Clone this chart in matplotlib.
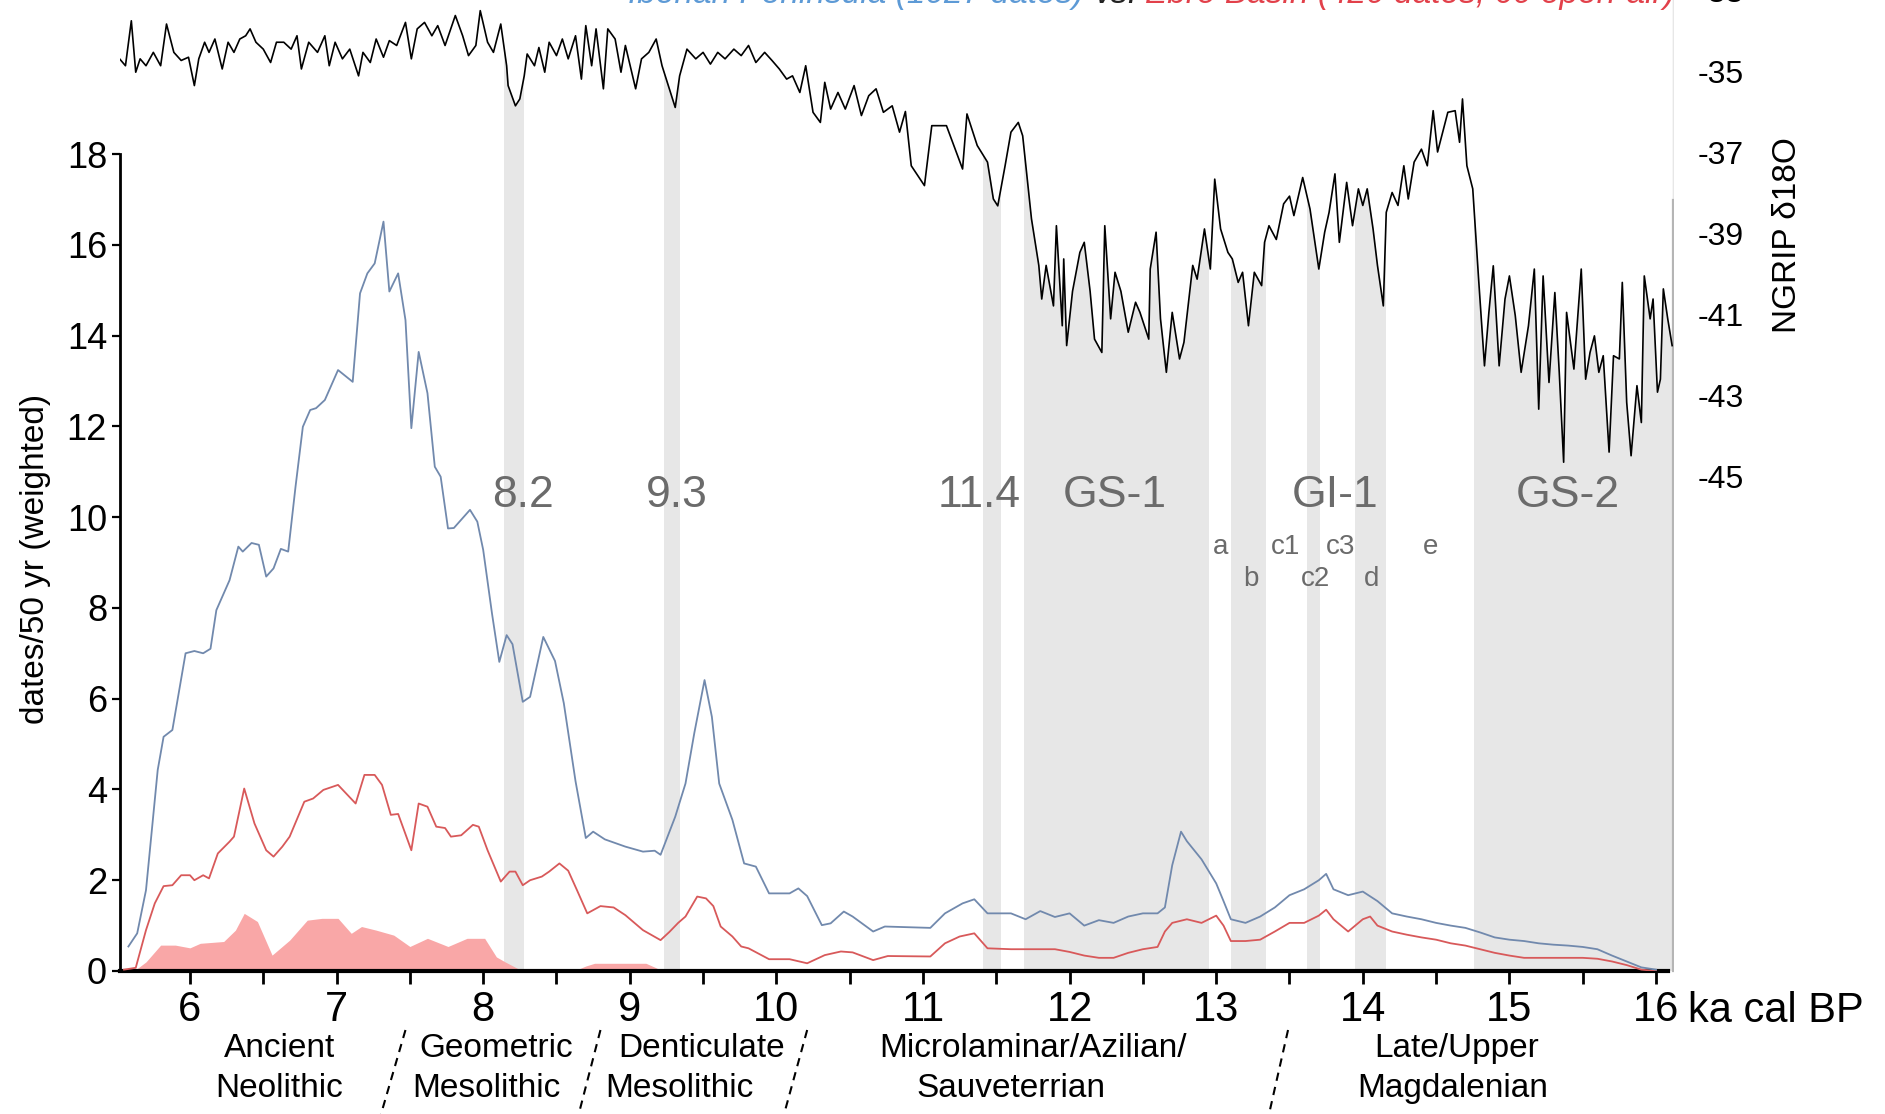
import numpy as np
import matplotlib
matplotlib.use("Agg")
import matplotlib.pyplot as plt

SANS = ['Liberation Sans', 'DejaVu Sans']

# ---------------- data ----------------
# Iberian Peninsula, summed dates per 50 yr (weighted)
ip_age = [5.58, 5.64, 5.70, 5.78, 5.82, 5.88, 5.97, 6.03, 6.09, 6.14, 6.18, 6.27, 6.33, 6.36,
          6.42, 6.47, 6.52, 6.57, 6.62, 6.67, 6.72, 6.77, 6.82, 6.86, 6.92, 7.01, 7.11, 7.16,
          7.21, 7.26, 7.32, 7.36, 7.42, 7.47, 7.51, 7.56, 7.62, 7.67, 7.71, 7.76, 7.80, 7.91,
          7.96, 8.00, 8.06, 8.11, 8.16, 8.20, 8.27, 8.32, 8.41, 8.49, 8.55, 8.63, 8.70, 8.75,
          8.83, 8.97, 9.09, 9.17, 9.21, 9.31, 9.38, 9.44, 9.51, 9.56, 9.61, 9.70, 9.78, 9.86,
          9.95, 10.09, 10.15, 10.21, 10.31, 10.37, 10.46, 10.52, 10.66, 10.74, 11.05, 11.15,
          11.27, 11.35, 11.44, 11.53, 11.60, 11.70, 11.80, 11.90, 12.00, 12.10, 12.20, 12.30,
          12.40, 12.50, 12.60, 12.65, 12.70, 12.76, 12.80, 12.90, 13.00, 13.05, 13.10, 13.20,
          13.30, 13.40, 13.50, 13.60, 13.70, 13.75, 13.80, 13.90, 14.00, 14.10, 14.20, 14.30,
          14.40, 14.50, 14.60, 14.70, 14.80, 14.90, 15.00, 15.10, 15.20, 15.30, 15.40, 15.50,
          15.60, 15.70, 15.80, 15.90, 16.00]
ip_val = [0.54, 0.83, 1.78, 4.43, 5.16, 5.31, 7.00, 7.05, 7.00, 7.10, 7.95, 8.61, 9.35, 9.24,
          9.43, 9.39, 8.69, 8.87, 9.30, 9.24, 10.67, 11.99, 12.36, 12.40, 12.58, 13.24, 12.98, 14.93,
          15.37, 15.59, 16.51, 14.97, 15.37, 14.34, 11.96, 13.64, 12.73, 11.11, 10.89, 9.75, 9.76, 10.16,
          9.90, 9.28, 7.88, 6.81, 7.40, 7.20, 5.93, 6.04, 7.36, 6.83, 5.90, 4.18, 2.93, 3.07,
          2.90, 2.74, 2.63, 2.65, 2.56, 3.40, 4.13, 5.24, 6.41, 5.60, 4.13, 3.33, 2.37, 2.30,
          1.71, 1.71, 1.82, 1.65, 1.01, 1.05, 1.31, 1.20, 0.87, 0.98, 0.95, 1.27,
          1.49, 1.58, 1.27, 1.27, 1.27, 1.14, 1.32, 1.19, 1.27, 1.00, 1.12, 1.06,
          1.20, 1.27, 1.27, 1.40, 2.33, 3.07, 2.86, 2.46, 1.93, 1.54, 1.14, 1.06,
          1.20, 1.40, 1.67, 1.80, 2.00, 2.14, 1.80, 1.67, 1.75, 1.54, 1.27, 1.20,
          1.14, 1.06, 1.00, 0.95, 0.85, 0.74, 0.69, 0.66, 0.61, 0.58, 0.56, 0.53,
          0.48, 0.34, 0.21, 0.08, 0.03]

# Ebro Basin, all sites
eb_age = [5.55, 5.63, 5.70, 5.76, 5.82, 5.88, 5.94, 6.00, 6.03, 6.09, 6.13, 6.19, 6.27, 6.30,
          6.37, 6.44, 6.52, 6.57, 6.63, 6.68, 6.78, 6.84, 6.91, 7.01, 7.13, 7.19, 7.26, 7.31,
          7.37, 7.42, 7.51, 7.56, 7.62, 7.68, 7.74, 7.78, 7.85, 7.93, 7.97, 8.03, 8.12, 8.18,
          8.22, 8.27, 8.32, 8.40, 8.45, 8.52, 8.58, 8.64, 8.71, 8.80, 8.89, 8.97, 9.09, 9.21,
          9.27, 9.33, 9.38, 9.46, 9.52, 9.57, 9.62, 9.70, 9.76, 9.81, 9.95, 10.09, 10.21, 10.33,
          10.44, 10.52, 10.66, 10.76, 11.05, 11.15, 11.25, 11.35, 11.44, 11.53, 11.60, 11.70,
          11.80, 11.90, 12.00, 12.10, 12.20, 12.30, 12.40, 12.50, 12.60, 12.65, 12.70, 12.80,
          12.90, 13.00, 13.05, 13.10, 13.20, 13.30, 13.40, 13.50, 13.60, 13.70, 13.75, 13.80,
          13.90, 14.00, 14.05, 14.10, 14.20, 14.30, 14.40, 14.50, 14.60, 14.70, 14.80, 14.90,
          15.00, 15.10, 15.20, 15.30, 15.40, 15.50, 15.60, 15.70, 15.80, 15.90, 16.00]
eb_val = [0.03, 0.07, 0.90, 1.49, 1.87, 1.89, 2.11, 2.11, 2.00, 2.11, 2.04, 2.59, 2.85, 2.96,
          4.02, 3.25, 2.66, 2.52, 2.74, 2.96, 3.73, 3.80, 3.99, 4.10, 3.69, 4.32, 4.32, 4.10,
          3.44, 3.46, 2.66, 3.69, 3.62, 3.18, 3.15, 2.96, 2.99, 3.22, 3.18, 2.66, 1.97, 2.19,
          2.19, 1.89, 2.00, 2.08, 2.19, 2.37, 2.21, 1.78, 1.27, 1.43, 1.40, 1.23, 0.90, 0.68,
          0.86, 1.06, 1.20, 1.64, 1.60, 1.43, 0.98, 0.76, 0.54, 0.50, 0.26, 0.26, 0.17, 0.35,
          0.43, 0.41, 0.24, 0.33, 0.32, 0.61, 0.76, 0.83, 0.50, 0.49, 0.48, 0.48,
          0.48, 0.48, 0.42, 0.34, 0.29, 0.29, 0.40, 0.48, 0.53, 0.87, 1.06, 1.14,
          1.06, 1.22, 1.00, 0.66, 0.66, 0.69, 0.87, 1.06, 1.06, 1.22, 1.35, 1.14,
          0.87, 1.14, 1.20, 1.00, 0.87, 0.80, 0.74, 0.69, 0.61, 0.56, 0.48, 0.40,
          0.34, 0.29, 0.29, 0.29, 0.29, 0.29, 0.27, 0.21, 0.13, 0.03, 0.00]

# Ebro Basin, open-air sites
oa_age = [5.55, 5.63, 5.70, 5.80, 5.90, 6.00, 6.07, 6.23, 6.31, 6.37, 6.46, 6.56, 6.68, 6.80,
          6.90, 7.01, 7.10, 7.17, 7.27, 7.39, 7.50, 7.62, 7.76, 7.89, 8.01, 8.09, 8.15, 8.25,
          8.30, 8.62, 8.70, 8.76, 9.11, 9.18, 9.22, 16.00]
oa_val = [0.00, 0.03, 0.20, 0.57, 0.57, 0.51, 0.61, 0.65, 0.90, 1.27, 1.09, 0.35, 0.68, 1.12,
          1.16, 1.16, 0.83, 0.98, 0.90, 0.79, 0.54, 0.72, 0.54, 0.72, 0.72, 0.31, 0.20, 0.03,
          0.00, 0.00, 0.11, 0.17, 0.17, 0.07, 0.00, 0.00]

# NGRIP d18O record
ng_age = [5.52, 5.56, 5.60, 5.63, 5.66, 5.70, 5.75, 5.80, 5.84, 5.89, 5.94, 5.99, 6.03, 6.06,
          6.10, 6.13, 6.17, 6.22, 6.26, 6.30, 6.34, 6.38, 6.41, 6.45, 6.50, 6.55, 6.59, 6.64,
          6.69, 6.73, 6.76, 6.81, 6.87, 6.92, 6.95, 6.99, 7.04, 7.09, 7.15, 7.18, 7.23, 7.27,
          7.32, 7.36, 7.41, 7.47, 7.51, 7.55, 7.60, 7.65, 7.69, 7.74, 7.77, 7.81, 7.86, 7.90,
          7.95, 7.98, 8.03, 8.07, 8.12, 8.16, 8.17, 8.22, 8.25, 8.28, 8.30, 8.35, 8.38, 8.42,
          8.45, 8.50, 8.54, 8.58, 8.63, 8.67, 8.70, 8.74, 8.77, 8.82, 8.85, 8.90, 8.94, 8.97,
          9.04, 9.08, 9.13, 9.18, 9.22, 9.27, 9.31, 9.34, 9.39, 9.45, 9.50, 9.55, 9.60, 9.65,
          9.71, 9.76, 9.81, 9.86, 9.92, 9.97, 10.02, 10.07, 10.11, 10.16, 10.20, 10.25, 10.30,
          10.33, 10.37, 10.42, 10.47, 10.53, 10.58, 10.63, 10.68, 10.73, 10.79, 10.84, 10.88,
          10.92, 11.01, 11.06, 11.16, 11.27, 11.30, 11.37, 11.44, 11.48, 11.51, 11.56, 11.60,
          11.65, 11.68, 11.74, 11.79, 11.81, 11.84, 11.89, 11.91, 11.95, 11.96, 11.98, 12.02,
          12.07, 12.10, 12.14, 12.17, 12.22, 12.24, 12.28, 12.31, 12.35, 12.40, 12.45, 12.48,
          12.54, 12.55, 12.59, 12.62, 12.66, 12.70, 12.75, 12.78, 12.84, 12.87, 12.92, 12.96,
          12.99, 13.03, 13.08, 13.11, 13.15, 13.18, 13.22, 13.26, 13.31, 13.33, 13.36, 13.41,
          13.46, 13.50, 13.53, 13.59, 13.64, 13.70, 13.74, 13.77, 13.81, 13.84, 13.89, 13.93,
          13.97, 14.00, 14.03, 14.07, 14.10, 14.14, 14.16, 14.20, 14.24, 14.28, 14.31, 14.35,
          14.40, 14.44, 14.48, 14.51, 14.58, 14.63, 14.66, 14.68, 14.71, 14.75, 14.79, 14.83,
          14.86, 14.89, 14.93, 14.97, 15.00, 15.04, 15.08, 15.13, 15.17, 15.20, 15.23, 15.27,
          15.31, 15.34, 15.37, 15.39, 15.44, 15.49, 15.52, 15.55, 15.58, 15.61, 15.64, 15.68,
          15.71, 15.75, 15.77, 15.80, 15.83, 15.87, 15.90, 15.92, 15.96, 15.98, 16.01, 16.03,
          16.05, 16.08, 16.11]
ng_val = [-34.70, -34.87, -33.76, -35.03, -34.70, -34.87, -34.54, -34.87, -33.84, -34.54, -34.74,
          -34.66, -35.36, -34.70, -34.29, -34.54, -34.21, -34.95, -34.29, -34.54, -34.21, -34.13,
          -33.96, -34.29, -34.46, -34.79, -34.29, -34.29, -34.46, -34.13, -34.95, -34.29, -34.54,
          -34.13, -34.87, -34.29, -34.70, -34.46, -35.12, -34.54, -34.79, -34.21, -34.66, -34.25,
          -34.37, -33.80, -34.70, -33.96, -33.80, -34.13, -33.88, -34.37, -34.05, -33.63, -34.13,
          -34.62, -34.37, -33.51, -34.29, -34.54, -33.84, -34.87, -35.36, -35.86, -35.69, -35.12,
          -34.58, -34.87, -34.42, -35.03, -34.29, -34.62, -34.21, -34.70, -34.13, -35.20, -33.88,
          -34.87, -33.96, -35.44, -33.96, -34.21, -35.03, -34.37, -35.44, -34.70, -34.54, -34.21,
          -34.87, -35.44, -35.90, -35.12, -34.46, -34.70, -34.54, -34.83, -34.54, -34.70, -34.46,
          -34.62, -34.37, -34.79, -34.54, -34.74, -34.95, -35.20, -35.12, -35.53, -34.87, -36.02,
          -36.27, -35.28, -35.94, -35.53, -35.94, -35.36, -36.10, -35.61, -35.44, -36.02, -35.86,
          -36.51, -36.00, -37.34, -37.83, -36.35, -36.35, -37.42, -36.06, -36.84, -37.25, -38.16,
          -38.33, -37.34, -36.51, -36.27, -36.60, -38.65, -39.80, -40.63, -39.80, -40.80, -38.82,
          -41.29, -39.64, -41.78, -40.44, -39.48, -39.23, -40.44, -41.62, -41.95, -38.82, -41.12,
          -39.97, -40.44, -41.45, -40.71, -40.96, -41.62, -39.89, -38.98, -41.12, -42.44, -40.96,
          -42.11, -41.70, -39.80, -40.14, -38.90, -39.89, -37.67, -38.90, -39.48, -39.64, -40.22,
          -39.97, -41.29, -39.97, -40.30, -39.23, -38.82, -39.16, -38.28, -38.09, -38.57, -37.63,
          -38.41, -39.89, -38.98, -38.49, -37.54, -39.23, -37.75, -38.82, -37.91, -38.32, -37.91,
          -38.90, -39.80, -40.80, -38.49, -38.00, -38.32, -37.34, -38.16, -37.25, -36.93, -37.34,
          -35.98, -37.00, -36.02, -35.98, -36.76, -35.69, -37.34, -37.91, -40.14, -42.28, -40.96,
          -39.81, -42.28, -40.63, -40.06, -41.04, -42.44, -41.29, -39.89, -43.35, -40.06, -42.69,
          -40.47, -42.44, -44.66, -40.96, -42.36, -39.89, -42.61, -41.95, -41.54, -42.44, -42.03,
          -44.41, -42.03, -42.11, -40.22, -43.18, -44.50, -42.77, -43.68, -40.06, -41.12, -40.63,
          -42.93, -42.61, -40.38, -41.12, -41.78]

# cold events / stadials (ka cal BP)
band_start = [8.14, 9.23, 11.41, 11.69, 13.10, 13.62, 13.95, 14.76]
band_end = [8.28, 9.34, 11.53, 12.95, 13.34, 13.71, 14.16, 16.12]

event_labels = ['8.2', '9.3', '11.4', 'GS-1', 'GI-1', 'GS-2']
event_x = [8.27, 9.32, 11.38, 12.31, 13.81, 15.40]
sub_labels = ['a', 'b', 'c1', 'c2', 'c3', 'd', 'e']
sub_x = [13.03, 13.24, 13.47, 13.68, 13.85, 14.06, 14.46]
sub_row = [0, 1, 0, 1, 0, 1, 0]

culture_lines = [('Ancient', 6.61, 'Neolithic', 6.61),
                 ('Geometric', 8.09, 'Mesolithic', 8.02),
                 ('Denticulate', 9.49, 'Mesolithic', 9.34),
                 ('Microlaminar/Azilian/', 11.75, 'Sauveterrian', 11.60),
                 ('Late/Upper', 14.64, 'Magdalenian', 14.61)]
divider_top = [7.47, 8.80, 10.21, 13.49]
divider_bottom = [7.29, 8.64, 10.04, 13.35]

x_major = list(range(6, 17))
y_ticks = list(range(0, 19, 2))
ng_ticks = [-45, -43, -41, -39, -37, -35, -33]

# ---------------- figure ----------------
W, H = 1885, 1114
fig = plt.figure(figsize=(W / 100, H / 100), dpi=100)


def fx(px):
    return px / W


def fy(py):
    return 1 - py / H


X0, X1 = 5.52, 16.12
left, right = fx(119.6), fx(1673.6)

BAND = '#e7e7e7'
NG_TOP_PAD = 30
ng_lo = -35 + (71 - H) / 40.5
ng_hi = -35 + (71 + NG_TOP_PAD) / 40.5
band_floor = -35 + (71 - 971) / 40.5
frame_top = -35 + (71 - 200) / 40.5

ax_n = fig.add_axes([left, 0, right - left, (H + NG_TOP_PAD) / H])
ax_n.set_xlim(X0, X1)
ax_n.set_ylim(ng_lo, ng_hi)
ax_n.patch.set_visible(False)
for s in ax_n.spines.values():
    s.set_visible(False)
ax_n.set_xticks([])
ax_n.yaxis.tick_right()
ax_n.set_yticks(ng_ticks)
ax_n.set_yticklabels([str(t) for t in ng_ticks], family=SANS, fontsize=23)
ax_n.tick_params(axis='y', length=0, pad=17)

# shaded intervals reach up to the isotope curve; white mask hides them above it
for a, b in zip(band_start, band_end):
    ax_n.fill_between([a, b], band_floor, ng_hi, color=BAND, lw=0, zorder=1)
ax_n.fill_between(ng_age, ng_val, ng_hi, color='white', lw=0, zorder=2)
ax_n.plot([band_end[-1] - 0.005] * 2, [band_floor, frame_top], color='#b5b5b5', lw=1.6, zorder=3.5)
ax_n.plot(ng_age, ng_val, color='black', lw=1.2, zorder=4)

# main panel
ax = fig.add_axes([left, fy(971), right - left, (971 - 154) / H])
ax.patch.set_visible(False)
ax.set_xlim(X0, X1)
ax.set_ylim(0, 18)
for side in ('top', 'right'):
    ax.spines[side].set_visible(False)
ax.spines['left'].set_linewidth(2)
ax.spines['bottom'].set_linewidth(3)
ax.spines['bottom'].set_bounds(X0, 16.08)

ax.fill_between(oa_age, 0, oa_val, color='#f9a7a7', lw=0, zorder=2)
ax.plot(eb_age, eb_val, color='#d8595a', lw=1.3, zorder=3)
ax.plot(ip_age, ip_val, color='#7189ad', lw=1.3, zorder=3)

ax.set_xticks(x_major)
ax.set_xticks([v + 0.5 for v in x_major[:-1]], minor=True)
ax.set_xticklabels([str(v) for v in x_major], family=SANS, fontsize=30)
ax.tick_params(axis='x', which='both', direction='out', length=9, width=2, pad=5)
ax.set_yticks(y_ticks)
ax.set_yticklabels([str(v) for v in y_ticks], family=SANS, fontsize=26)
ax.tick_params(axis='y', direction='out', length=6, width=1.6, pad=3)

ax.text(16.22, -0.45, 'ka cal BP', family=SANS, fontsize=30, ha='left', va='top')

GREY = '#6b6b6b'
for lab, x in zip(event_labels, event_x):
    ax.text(x, 10.48, lab, family=SANS, fontsize=32, color=GREY, ha='center', va='center', zorder=5)
for lab, x, r in zip(sub_labels, sub_x, sub_row):
    ax.text(x, 9.34 if r == 0 else 8.63, lab, family=SANS, fontsize=20, color=GREY,
            ha='center', va='center', zorder=5)

for l1, x1, l2, x2 in culture_lines:
    ax.text(x1, -1.70, l1, family=SANS, fontsize=24, ha='center', va='center', clip_on=False)
    ax.text(x2, -2.58, l2, family=SANS, fontsize=24, ha='center', va='center', clip_on=False)
for t, b in zip(divider_top, divider_bottom):
    ax.plot([t, b], [-1.30, -3.30], color='black', lw=1.5, ls=(0, (4, 3)), clip_on=False)

fig.text(fx(36), fy(559), 'dates/50 yr (weighted)', rotation=90, ha='center', va='center',
         family=SANS, fontsize=24)
fig.text(fx(1787), fy(235), 'NGRIP δ18O', rotation=90, ha='center', va='center',
         family=SANS, fontsize=24)

TY = 3
fig.text(fx(628), fy(TY), 'Iberian Peninsula (1027 dates)', color='#5d9ad6', style='italic',
         family=SANS, fontsize=24, ha='left', va='baseline')
fig.text(fx(1094), fy(TY), 'vs.', color='#222222', style='italic',
         family=SANS, fontsize=24, ha='left', va='baseline')
fig.text(fx(1145), fy(TY), 'Ebro Basin (420 dates, 60 open-air)', color='#e2404a', style='italic',
         family=SANS, fontsize=24, ha='left', va='baseline')

fig.savefig('out.png', dpi=100)
